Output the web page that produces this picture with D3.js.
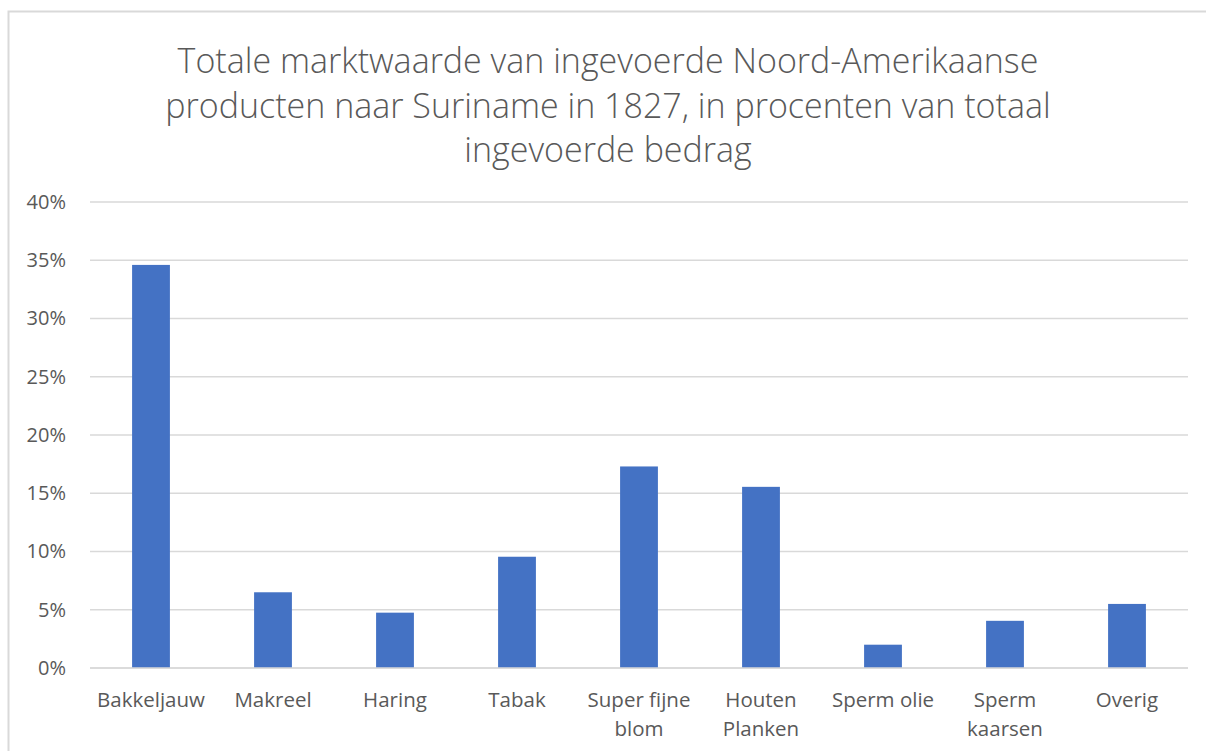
<!DOCTYPE html>
<html>
<head>
<meta charset="utf-8">
<style>
  body { margin: 0; background: #fff; }
  text { font-family: "Open Sans", "Noto Sans", sans-serif; fill: #595959; }
</style>
</head>
<body>

<script src="https://d3js.org/d3.v7.min.js"></script>

<script>

const width = 1206;
const height = 751;

const titleLines = [
  'Totale marktwaarde van ingevoerde Noord-Amerikaanse',
  'producten naar Suriname in 1827, in procenten van totaal',
  'ingevoerde bedrag'
];

const categories = ['Bakkeljauw', 'Makreel', 'Haring', 'Tabak', 'Super fijne blom',
                    'Houten Planken', 'Sperm olie', 'Sperm kaarsen', 'Overig'];
const values = [34.6, 6.5, 4.75, 9.55, 17.3, 15.55, 2.0, 4.05, 5.5];
const yTicks = [0, 5, 10, 15, 20, 25, 30, 35, 40];

const margin = { top: 202, right: 18, bottom: 83, left: 90 };

const svg = d3.select('body')
              .append('svg')
              .attr('width', width)
              .attr('height', height);

// chart frame
svg.append('rect')
  .attr('x', 8.5)
  .attr('y', 11.5)
  .attr('width', width + 20)
  .attr('height', height + 20)
  .attr('fill', 'none')
  .attr('stroke', '#d9d9d9')
  .attr('stroke-width', 2);

svg.append('text')
  .attr('text-anchor', 'middle')
  .attr('font-size', 34)
  .attr('font-weight', 300)
  .selectAll('tspan')
  .data(titleLines)
  .enter()
  .append('tspan')
    .attr('x', 608)
    .attr('y', (d, i) => 73 + i * 44.5)
    .text(d => d);

const x = d3.scaleBand()
            .domain(categories)
            .range([margin.left, width - margin.right])
            .paddingInner(0.69)
            .paddingOuter(0.345);

const y = d3.scaleLinear()
            .domain([0, 40])
            .range([height - margin.bottom, margin.top]);

// gridlines
svg.append('g')
  .selectAll('line')
  .data(yTicks)
  .enter()
  .append('line')
    .attr('x1', margin.left)
    .attr('x2', width - margin.right)
    .attr('y1', d => y(d))
    .attr('y2', d => y(d))
    .attr('stroke', '#d9d9d9')
    .attr('stroke-width', 1.3);

// y axis labels
const yAxis = svg.append('g')
  .attr('transform', `translate(${margin.left - 24},0)`)
  .call(d3.axisLeft(y).tickValues(yTicks).tickFormat(d => d + '%').tickSize(0).tickPadding(0));
yAxis.select('.domain').remove();
yAxis.selectAll('text')
  .attr('font-size', 20)
  .attr('fill', '#595959')
  .attr('font-family', '"Open Sans", sans-serif');

svg.append('g')
  .selectAll('rect')
  .data(values)
  .enter()
  .append('rect')
    .attr('x', (d, i) => x(categories[i]))
    .attr('y', d => y(d))
    .attr('width', x.bandwidth())
    .attr('height', d => y(0) - y(d))
    .attr('fill', '#4472c4');

// axis baseline
svg.append('line')
  .attr('x1', margin.left)
  .attr('x2', width - margin.right)
  .attr('y1', y(0))
  .attr('y2', y(0))
  .attr('stroke', '#d9d9d9')
  .attr('stroke-width', 1.3);

// category labels, wrapped to the band step
const labels = svg.append('g')
  .attr('text-anchor', 'middle')
  .attr('font-size', 20.5);

categories.forEach(c => {
  const cx = x(c) + x.bandwidth() / 2;
  const t = labels.append('text').attr('x', cx).attr('y', 707);
  const words = c.split(' ');
  let line = [];
  let tspan = t.append('tspan').attr('x', cx).attr('dy', 0);
  words.forEach(w => {
    line.push(w);
    tspan.text(line.join(' '));
    if (tspan.node().getComputedTextLength() > x.step() - 4 && line.length > 1) {
      line.pop();
      tspan.text(line.join(' '));
      line = [w];
      tspan = t.append('tspan').attr('x', cx).attr('dy', 29).text(w);
    }
  });
});

</script>
</body>
</html>
